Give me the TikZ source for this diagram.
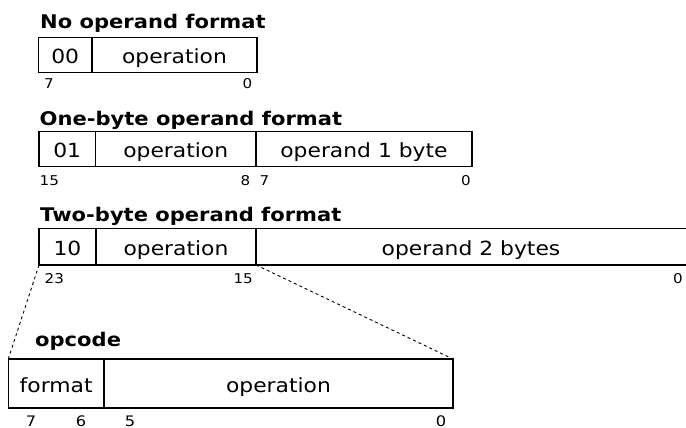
\documentclass[tikz,border=0pt]{standalone}
\usepackage{fontspec}
\setmainfont{DejaVu Sans}[FakeStretch=1.12]
\begin{document}
\begin{tikzpicture}[x=1pt,y=-1pt,
  cell/.style={draw, line width=1.1pt, inner sep=0pt, outer sep=0pt,
    anchor=north west, text height=17pt, text depth=0pt,
    font=\fontsize{19.5}{20}\selectfont},
  opencell/.style={cell, draw=none},
  caption/.style={anchor=base west, inner sep=0pt,
    font=\bfseries\fontsize{18.8}{20}\selectfont},
  bit/.style={inner sep=0pt, font=\fontsize{13.5}{14}\selectfont},
  bigbit/.style={inner sep=0pt, anchor=base, font=\fontsize{14.5}{15}\selectfont},
  edge/.style={line width=1.1pt},
  zoomline/.style={line width=0.9pt, dash pattern=on 3pt off 3pt}]
\useasboundingbox (0,0) rectangle (686,428);

% --- no operand ---
\node[caption] (t1) at (40,28.3) {No operand format};
\node[cell, minimum width=53.5pt, minimum height=35pt] (a1) at (38.5,37.7) {00};
\node[cell, minimum width=165pt, minimum height=35pt] (a2) at (92,37.7) {operation};
\node[bit, anchor=base west] (a7) at (44,88.8) {7};
\node[bit, anchor=base east] (a0) at (252.5,88.3) {0};

% --- one-byte operand ---
\node[caption] (t2) at (39.5,125) {One-byte operand format};
\node[cell, minimum width=56.5pt, minimum height=34.8pt] (b1) at (39,131.7) {01};
\node[cell, minimum width=160.5pt, minimum height=34.8pt] (b2) at (95.5,131.7) {operation};
\node[cell, minimum width=216pt, minimum height=34.8pt] (b3) at (256,131.7) {operand 1 byte};
\node[bit, anchor=base west] (b15) at (39.5,185.7) {15};
\node[bit, anchor=base east] (b8) at (250.5,185.7) {8};
\node[bit, anchor=base west] (b7) at (259.5,185.7) {7};
\node[bit, anchor=base east] (b0) at (471,185.7) {0};

% --- two-byte operand (runs off to the right) ---
\node[caption] (t3) at (40,221.5) {Two-byte operand format};
\node[cell, minimum width=57pt, minimum height=36.5pt] (c1) at (39,228.5) {10};
\node[cell, minimum width=160pt, minimum height=36.5pt] (c2) at (96,228.5) {operation};
\node[opencell, minimum width=430pt, minimum height=36.5pt] (c3) at (256,228.5) {operand 2 bytes};
\draw[edge] (c3.north west) -- (c3.north east);
\draw[edge] (c3.south west) -- (c3.south east);
\node[bit, anchor=base west] (c23) at (44.5,283) {23};
\node[bit, anchor=base east] (c15) at (253,283) {15};
\node[bit, anchor=base east] (c0) at (683,283) {0};

% --- opcode detail ---
\node[caption] (t4) at (35,346) {opcode};
\node[cell, minimum width=95.7pt, minimum height=49pt] (d1) at (8.3,359) {format};
\node[cell, minimum width=349pt, minimum height=49pt] (d2) at (104,359) {operation};
\node[bigbit] (d7) at (31,426) {7};
\node[bigbit] (d6) at (81,426) {6};
\node[bigbit] (d5) at (130,426) {5};
\node[bigbit] (d0) at (441,426) {0};

% zoom lines from the opcode byte to its expansion
\draw[zoomline] (c1.south west) -- (d1.north west);
\draw[zoomline] (c2.south east) -- (d2.north east);
\end{tikzpicture}
\end{document}
